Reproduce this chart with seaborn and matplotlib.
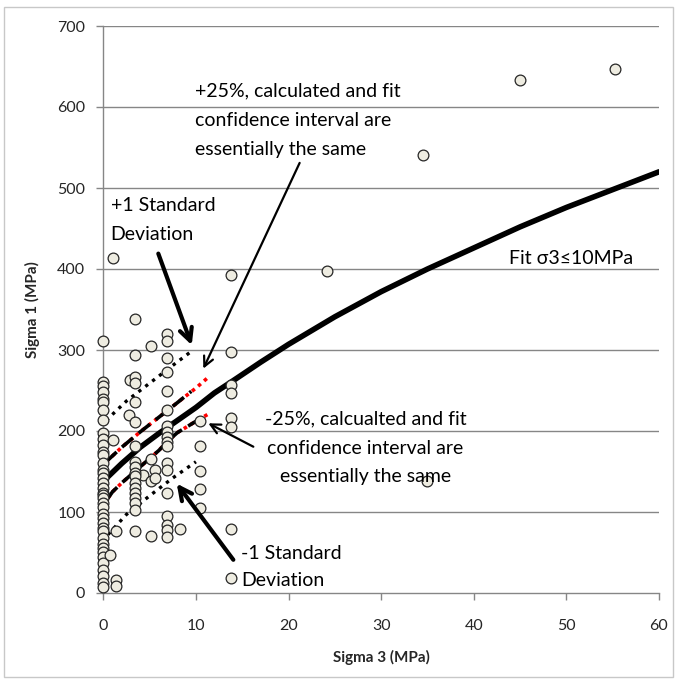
import matplotlib
matplotlib.use("Agg")
import matplotlib.pyplot as plt
import seaborn as sns
import pandas as pd
from matplotlib.patches import Rectangle

# ---------------- data ----------------
col_0_s1 = [311, 261, 255, 248, 240, 236, 226, 214, 197, 190, 183, 174, 170, 160,
            152, 148, 142, 136, 130, 124, 121, 117, 111, 106, 97, 92, 86, 80, 76,
            68, 60, 55, 51, 45, 37, 29, 21, 12, 8]
misc_s3 = [1.0, 1.1, 0.7, 1.4, 1.4, 1.4, 2.9, 2.8, 4.3, 5.2, 5.2, 5.2, 5.2, 5.6, 5.6, 8.3]
misc_s1 = [414, 189, 47, 16, 9, 76, 263, 220, 146, 305, 166, 138, 70, 152, 142, 79]
col_3_4_s1 = [338, 294, 267, 259, 236, 211, 181, 162, 156, 148, 144, 136, 130, 124,
              117, 111, 103, 77]
col_6_9_s1 = [320, 311, 290, 273, 249, 226, 206, 199, 193, 187, 181, 160, 152, 124,
              95, 84, 78, 69]
col_10_4_s1 = [212, 181, 151, 129, 105]
col_13_8_s1 = [393, 297, 257, 247, 216, 205, 79, 18]
far_s3 = [24.2, 34.5, 45.0, 55.2, 35.0]
far_s1 = [398, 541, 633, 647, 138]

# Fit curve sigma3 <= 10 MPa
fit_s3 = [0, 2, 4, 6, 8, 10, 12, 14, 17, 20, 25, 30, 35, 40, 45, 50, 55, 60]
fit_s1 = [138, 160, 180, 197, 213, 229, 247, 262, 285, 307, 341, 372, 400, 426,
          452, 476, 498, 520]
# +25 % (black dashed) and fit confidence interval (red dotted)
up25_s3 = [0.3, 2, 4, 6, 8, 9.5]
up25_s1 = [162, 180, 199, 217, 235, 249]
upci_s3 = [0.3, 2, 4, 6, 8, 10, 11.3]
upci_s1 = [162, 180, 199, 217, 235, 253, 266]
# -25 % and lower confidence interval
lo25_s3 = [0.5, 1, 2, 3, 4, 5, 6, 7, 8, 9, 10]
lo25_s1 = [117, 125, 136, 146, 156, 166, 176, 188, 198, 205, 212]
loci_s3 = [0.5, 1, 2, 3, 4, 5, 6, 7, 8, 9, 10, 11.5]
loci_s1 = [117, 125, 136, 146, 156, 166, 176, 188, 198, 205, 212, 222]
# +/- 1 standard deviation
sdp_s3 = [0.3, 2.5, 5, 7.5, 9.7]
sdp_s1 = [213, 237, 259, 281, 300]
sdm_s3 = [0.5, 2.5, 5, 7.5, 10]
sdm_s1 = [72, 97, 120, 142, 162]

x_ticks = [0, 10, 20, 30, 40, 50, 60]
y_ticks = [0, 100, 200, 300, 400, 500, 600, 700]

# ---------------- build tables ----------------
pts_s3 = ([0.0] * len(col_0_s1) + misc_s3 + [3.4] * len(col_3_4_s1)
          + [6.9] * len(col_6_9_s1) + [10.4] * len(col_10_4_s1)
          + [13.8] * len(col_13_8_s1) + far_s3)
pts_s1 = col_0_s1 + misc_s1 + col_3_4_s1 + col_6_9_s1 + col_10_4_s1 + col_13_8_s1 + far_s1
pts = pd.DataFrame({"s3": pts_s3, "s1": pts_s1})

def df(x, y):
    return pd.DataFrame({"s3": x, "s1": y})

# ---------------- style ----------------
sns.set_style("white")
plt.rcParams["font.family"] = ["Lato", "DejaVu Sans"]

fig = plt.figure(figsize=(6.78, 6.84), dpi=100)
ax = fig.add_axes([103.3 / 678, 1 - 593 / 684, (659 - 103.3) / 678, (593 - 26) / 684])

grid_c = "#868686"
for yv in y_ticks[1:]:
    ax.axhline(yv, color=grid_c, lw=1.0, zorder=0)

# lines
sns.lineplot(data=df(loci_s3, loci_s1), x="s3", y="s1", ax=ax, color="red",
             lw=2.6, sort=False, estimator=None, zorder=2, linestyle=(0, (1, 1.2)))
sns.lineplot(data=df(lo25_s3, lo25_s1), x="s3", y="s1", ax=ax, color="black",
             lw=2.6, sort=False, estimator=None, zorder=3, linestyle=(0, (4, 2)))
sns.lineplot(data=df(upci_s3, upci_s1), x="s3", y="s1", ax=ax, color="red",
             lw=2.6, sort=False, estimator=None, zorder=2, linestyle=(0, (1, 1.2)))
sns.lineplot(data=df(up25_s3, up25_s1), x="s3", y="s1", ax=ax, color="black",
             lw=2.6, sort=False, estimator=None, zorder=3, linestyle=(0, (4, 2)))
sns.lineplot(data=df(sdp_s3, sdp_s1), x="s3", y="s1", ax=ax, color="black",
             lw=2.4, sort=False, estimator=None, zorder=3, linestyle=(0, (1, 1.6)))
sns.lineplot(data=df(sdm_s3, sdm_s1), x="s3", y="s1", ax=ax, color="black",
             lw=2.4, sort=False, estimator=None, zorder=3, linestyle=(0, (1, 1.6)))
sns.lineplot(data=df(fit_s3, fit_s1), x="s3", y="s1", ax=ax, color="black",
             lw=4.0, sort=False, estimator=None, zorder=4)

# points
sns.scatterplot(data=pts, x="s3", y="s1", ax=ax, s=60, color="#EEECE1",
                edgecolor="#262626", linewidth=0.9, zorder=5, clip_on=False)

ax.set_xlim(0, 60)
ax.set_ylim(0, 700)
ax.set_xticks(x_ticks)
ax.set_yticks(y_ticks)
ax.tick_params(axis="both", which="major", labelsize=11.5, direction="out",
               length=5, width=1, color=grid_c, pad=8, left=True, bottom=True)
ax.tick_params(axis="x", pad=14)
for s in ["top", "right"]:
    ax.spines[s].set_visible(False)
for s in ["left", "bottom"]:
    ax.spines[s].set_color(grid_c)
    ax.spines[s].set_linewidth(1.0)
ax.set_xlabel("Sigma 3 (MPa)", fontsize=11, fontweight="bold", labelpad=12)
ax.set_ylabel("Sigma 1 (MPa)", fontsize=11, fontweight="bold", labelpad=12)

# ---------------- annotations ----------------
fs = 14
tkw = dict(fontsize=fs, va="center", color="black", zorder=6)
ax.text(9.9, 620, "+25%, calculated and fit", ha="left", **tkw)
ax.text(9.9, 583.5, "confidence interval are", ha="left", **tkw)
ax.text(9.9, 547, "essentially the same", ha="left", **tkw)

ax.text(0.8, 479, "+1 Standard", ha="left", **tkw)
ax.text(0.8, 442, "Deviation", ha="left", **tkw)

ax.text(43.8, 413, "Fit σ3≤10MPa", ha="left", **tkw)

ax.text(28.3, 215, "-25%, calcualted and fit", ha="center", **tkw)
ax.text(28.3, 179, "confidence interval are", ha="center", **tkw)
ax.text(28.3, 143.5, "essentially the same", ha="center", **tkw)

ax.text(14.9, 49, "-1 Standard", ha="left", **tkw)
ax.text(14.9, 16, "Deviation", ha="left", **tkw)

thick = dict(arrowstyle="->, head_length=0.9, head_width=0.45", lw=3.0,
             color="black", shrinkA=0, shrinkB=0)
thin = dict(arrowstyle="->, head_length=0.7, head_width=0.35", lw=1.6,
            color="black", shrinkA=0, shrinkB=0)
ax.annotate("", xy=(9.55, 306), xytext=(5.94, 419), arrowprops=thick, zorder=6)
ax.annotate("", xy=(7.93, 135), xytext=(14.04, 41), arrowprops=thick, zorder=6)
ax.annotate("", xy=(10.8, 277), xytext=(21.2, 531), arrowprops=thin, zorder=6)
ax.annotate("", xy=(11.34, 209.5), xytext=(16.2, 180.6), arrowprops=thin, zorder=6)

# chart-area border
fig.patches.append(Rectangle((4 / 678, 7 / 684), 669 / 678, 670 / 684,
                             transform=fig.transFigure, fill=False,
                             edgecolor="#C8C8C8", lw=1.0))

fig.savefig("out.png", dpi=100)
